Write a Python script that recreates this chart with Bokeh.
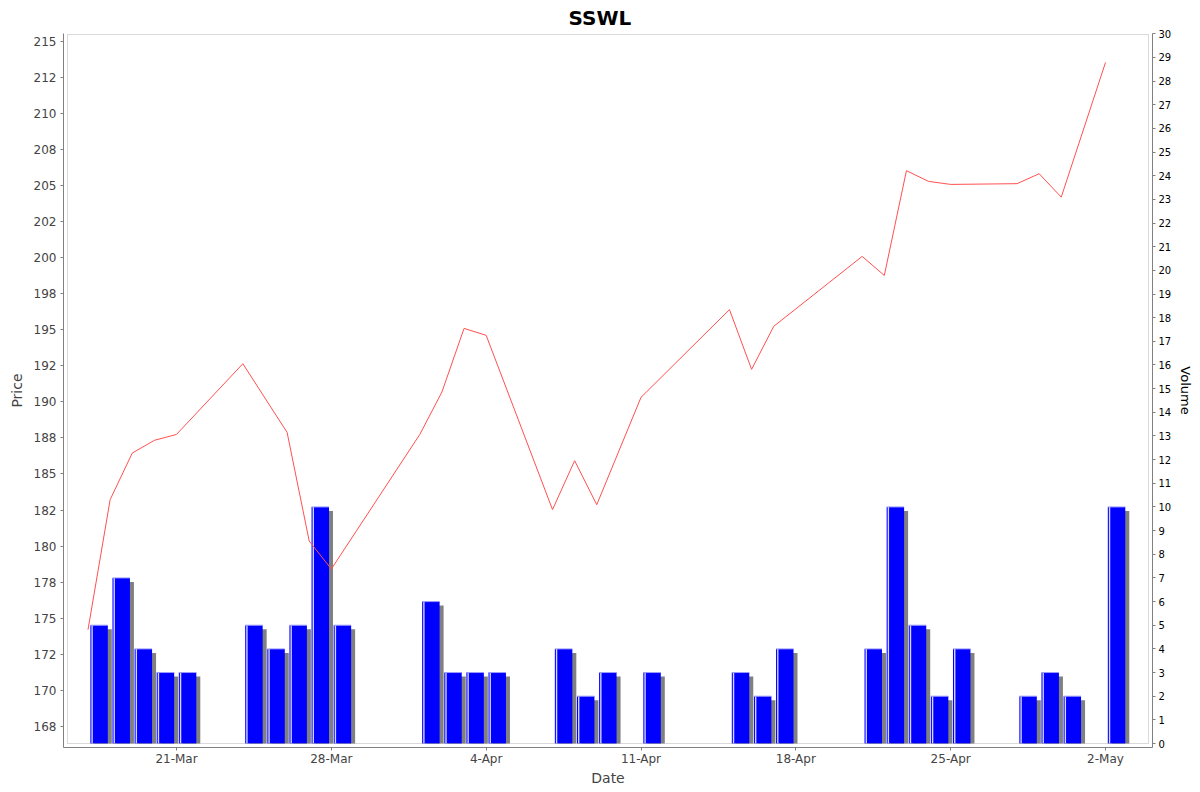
import pandas as pd
from bokeh.plotting import figure
from bokeh.models import Range1d, LinearAxis, FixedTicker, BoxAnnotation
from bokeh.embed import file_html
from bokeh.resources import INLINE

# ---------------- data ----------------
chart_title = "SSWL"
dates = ["2025-03-17", "2025-03-18", "2025-03-19", "2025-03-20", "2025-03-21",
         "2025-03-24", "2025-03-25", "2025-03-26", "2025-03-27", "2025-03-28",
         "2025-04-01", "2025-04-02", "2025-04-03", "2025-04-04",
         "2025-04-07", "2025-04-08", "2025-04-09", "2025-04-11",
         "2025-04-15", "2025-04-16", "2025-04-17",
         "2025-04-21", "2025-04-22", "2025-04-23", "2025-04-24", "2025-04-25",
         "2025-04-28", "2025-04-29", "2025-04-30", "2025-05-02"]
prices = [174.21, 183.22, 186.45, 187.33, 187.74,
          192.64, 190.26, 187.88, 180.35, 178.41,
          187.74, 190.68, 195.09, 194.61,
          182.53, 185.92, 182.87, 190.31,
          196.39, 192.25, 195.23,
          200.08, 198.76, 206.02, 205.28, 205.07,
          205.12, 205.81, 204.19, 213.52]
volumes = [5, 7, 4, 3, 3,
           5, 4, 5, 10, 5,
           6, 3, 3, 3,
           4, 2, 3, 3,
           3, 2, 4,
           4, 10, 5, 2, 4,
           2, 3, 2, 10]
price_ticks = [167.5, 170.0, 172.5, 175.0, 177.5, 180.0, 182.5, 185.0, 187.5, 190.0,
               192.5, 195.0, 197.5, 200.0, 202.5, 205.0, 207.5, 210.0, 212.5, 215.0]
price_tick_labels = ["168", "170", "172", "175", "178", "180", "182", "185", "188", "190",
                     "192", "195", "198", "200", "202", "205", "208", "210", "212", "215"]
volume_ticks = list(range(0, 31))
date_ticks = ["2025-03-21", "2025-03-28", "2025-04-04", "2025-04-11",
              "2025-04-18", "2025-04-25", "2025-05-02"]
date_tick_labels = ["21-Mar", "28-Mar", "4-Apr", "11-Apr", "18-Apr", "25-Apr", "2-May"]

# ---------------- helpers ----------------
DAY = 86400000.0


def ms(d):
    return pd.Timestamp(d).value // 10**6


xms = [ms(d) for d in dates]
tick_ms = [ms(d) for d in date_ticks]

FW, FH = 1089, 714
anchor = ms("2025-03-21")
x_start = anchor - 5.109 * DAY
x_end = anchor + 44.125 * DAY
p_lo, p_hi = 166.04, 215.53
v_lo, v_hi = -0.169, 30.013

px_ms = FW / (x_end - x_start)
px_price = FH / (p_hi - p_lo)
px_vol = FH / (v_hi - v_lo)

FONT = "DejaVu Sans"
GRAY = "#808080"
LABEL = "#444444"

p = figure(frame_width=FW, frame_height=FH, x_axis_type="datetime",
           x_range=Range1d(x_start, x_end), y_range=Range1d(p_lo, p_hi),
           output_backend="svg", toolbar_location=None,
           min_border_left=63, min_border_right=36, min_border_top=33,
           min_border_bottom=32, title=chart_title)
p.extra_y_ranges = {"vol": Range1d(v_lo, v_hi)}
p.outline_line_color = None
p.background_fill_color = "white"
p.border_fill_color = "white"
p.xgrid.visible = False
p.ygrid.visible = False

p.title.text_font = FONT
p.title.text_font_size = "20px"
p.title.text_font_style = "bold"
p.title.text_color = "#000000"
p.title.align = "left"
p.title.offset = 505
p.title.text_line_height = 0.8
p.title.standoff = 7

# ---- bars (volume) ----
bw = 0.79 * DAY
bx = [x + 0.5 * DAY for x in xms]
sh_dx = 4 / px_ms
sh_dy = 4 / px_vol
p.vbar(x=[x + sh_dx for x in bx], width=bw, bottom=0,
       top=[v - sh_dy for v in volumes], y_range_name="vol",
       fill_color="#808080", line_color=None)
p.vbar(x=bx, width=bw, bottom=0, top=volumes, y_range_name="vol",
       fill_color="#0000ff", line_color=None)
p.vbar(x=[x - bw / 2 + 1.75 / px_ms for x in bx], width=1.4 / px_ms, bottom=0,
       top=volumes, y_range_name="vol", fill_color="#d4d4ff", line_color=None)
p.segment(x0=[x - bw / 2 for x in bx], x1=[x + bw / 2 for x in bx],
          y0=volumes, y1=volumes, y_range_name="vol",
          line_color="#9c9cff", line_width=1)

# ---- price line ----
p.line(xms, prices, line_color="#ff5050", line_width=1)

# ---- inset data-area outline ----
p.add_layout(BoxAnnotation(left=x_start + 4 / px_ms, right=x_end - 4 / px_ms,
                           bottom=p_lo + 4 / px_price, top=p_hi - 1 / px_price,
                           fill_color=None, fill_alpha=0,
                           line_color=GRAY, line_width=1))

# ---- axes ----
xa = p.xaxis[0]
xa.ticker = FixedTicker(ticks=tick_ms)
xa.major_label_overrides = {t: l for t, l in zip(tick_ms, date_tick_labels)}
xa.axis_label = "Date"

ya = p.yaxis[0]
ya.ticker = FixedTicker(ticks=price_ticks)
ya.major_label_overrides = {t: l for t, l in zip(price_ticks, price_tick_labels)}
ya.axis_label = "Price"

va = LinearAxis(y_range_name="vol", axis_label="Volume",
                ticker=FixedTicker(ticks=volume_ticks))
p.add_layout(va, "right")

for ax in (xa, ya, va):
    ax.axis_line_color = GRAY
    ax.major_tick_line_color = GRAY
    ax.major_tick_out = 3
    ax.major_tick_in = 0
    ax.minor_tick_line_color = None
    ax.major_label_text_font = FONT
    ax.axis_label_text_font = FONT
    ax.axis_label_text_font_style = "normal"

for ax in (xa, ya):
    ax.major_label_text_font_size = "12px"
    ax.major_label_text_color = LABEL
    ax.axis_label_text_font_size = "14px"
    ax.axis_label_text_color = LABEL

xa.major_label_standoff = 1
xa.axis_label_standoff = 1
ya.major_label_standoff = 4
ya.axis_label_standoff = 6

va.major_label_text_font_size = "10px"
va.major_label_text_color = "#000000"
va.axis_label_text_font_size = "13px"
va.axis_label_text_color = "#000000"
va.major_label_standoff = 3
va.axis_label_standoff = 4

open("out.html", "w").write(file_html(p, INLINE))
